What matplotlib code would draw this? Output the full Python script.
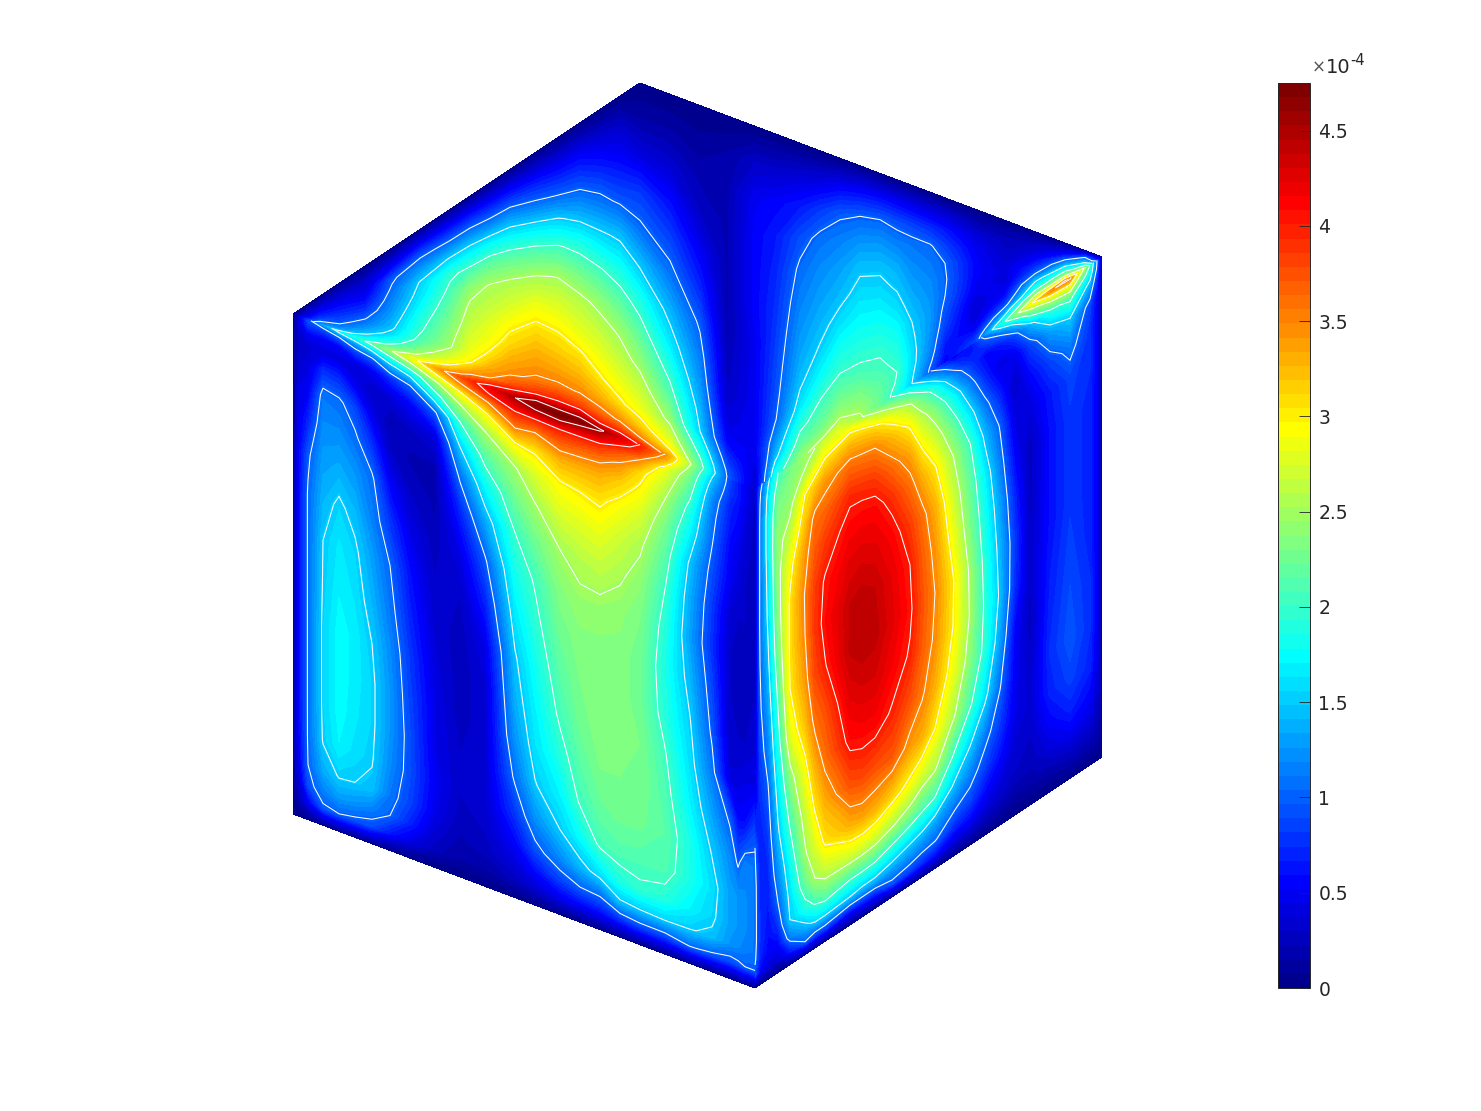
#!/usr/bin/env python3
"""Field on the three visible faces of a cube, contourf + white contour lines."""
import numpy as np
import matplotlib
matplotlib.use("Agg")
import matplotlib.pyplot as plt
from matplotlib.colors import ListedColormap

# values in units of 1e-4, read off along vertical lines of the picture
# ─── left face ───
left_x = [293, 300, 308, 323, 339, 355, 372, 390, 410, 435, 460, 485, 515, 535, 560, 580, 600, 620, 640, 665, 690, 712, 730, 738, 745, 755]
left_d = [0, 6, 15, 27.5, 45, 70, 100, 135, 175, 215, 260, 300, 340, 380, 415, 445, 465, 482.5, 500]
left_val = [
    [0, .1, .1, .1, .1, .1, .1, .1, .1, .1, .1, .1, .1, .1, .1, .1, .1, .05, 0],
    [.4, .45, .35, .3, .35, .45, .5, .6, .65, .65, .65, .65, .65, .65, .6, .55, .4, .25, 0],
    [.95, .8, .5, .35, .4, .5, .7, .95, 1.03, 1.03, 1.03, 1.03, 1.03, 1.03, 1.03, 1.0, .9, .5, 0],
    [1.2, .8, .5, .4, .75, 1.1, 1.2, 1.3, 1.4, 1.5, 1.52, 1.55, 1.55, 1.55, 1.52, 1.35, 1.15, .95, 0],
    [1.65, 1.0, .55, .4, .7, 1.05, 1.2, 1.35, 1.55, 1.65, 1.7, 1.75, 1.75, 1.75, 1.7, 1.52, 1.3, 1.0, 0],
    [1.83, 1.3, .8, .4, .45, .85, 1.05, 1.25, 1.42, 1.55, 1.62, 1.68, 1.68, 1.65, 1.6, 1.5, 1.25, .95, 0],
    [2.12, 1.6, .95, .5, .3, .45, .75, 1.05, 1.15, 1.3, 1.4, 1.5, 1.55, 1.55, 1.52, 1.45, 1.15, .9, 0],
    [2.46, 2.0, 1.4, .75, .4, .2, .3, .55, .8, 1.0, 1.1, 1.2, 1.25, 1.25, 1.2, 1.1, 1.0, .65, 0],
    [2.84, 2.4, 1.7, 1.0, .55, .3, .2, .3, .45, .6, .7, .8, .85, .9, .9, .85, .7, .45, 0],
    [3.35, 3.0, 2.4, 1.85, .95, .4, .2, .2, .25, .3, .35, .4, .45, .45, .5, .45, .35, .25, 0],
    [3.75, 3.5, 3.0, 2.5, 2.0, 1.5, 1.05, .7, .45, .3, .25, .25, .25, .3, .3, .25, .2, .15, 0],
    [4.1, 3.95, 3.45, 2.93, 2.5, 2.13, 1.73, 1.33, .95, .7, .45, .35, .35, .35, .35, .3, .25, .15, 0],
    [4.5, 4.3, 3.95, 3.6, 3.0, 2.48, 2.25, 2.0, 1.82, 1.65, 1.47, 1.38, 1.25, 1.05, .8, .55, .4, .25, 0],
    [4.65, 4.45, 3.95, 3.5, 3.05, 2.75, 2.48, 2.25, 2.03, 1.93, 1.8, 1.7, 1.62, 1.48, 1.2, .9, .6, .35, 0],
    [4.75, 4.5, 4.0, 3.7, 3.3, 2.95, 2.75, 2.5, 2.35, 2.25, 2.15, 2.05, 1.9, 1.7, 1.5, 1.17, .85, .5, 0],
    [4.65, 4.4, 3.98, 3.65, 3.3, 3.0, 2.8, 2.6, 2.45, 2.35, 2.3, 2.25, 2.15, 2.03, 1.75, 1.4, 1.0, .55, 0],
    [4.55, 4.35, 3.95, 3.6, 3.3, 3.05, 2.85, 2.65, 2.45, 2.35, 2.35, 2.35, 2.3, 2.2, 2.05, 1.6, 1.05, .6, 0],
    [4.3, 4.1, 3.75, 3.45, 3.15, 2.9, 2.7, 2.55, 2.4, 2.35, 2.35, 2.35, 2.3, 2.25, 2.12, 1.85, 1.45, .75, 0],
    [4.0, 3.9, 3.5, 3.1, 2.95, 2.75, 2.55, 2.4, 2.3, 2.25, 2.25, 2.3, 2.3, 2.25, 2.1, 1.95, 1.5, .85, 0],
    [3.5, 3.3, 2.85, 2.7, 2.5, 2.3, 2.15, 2.0, 1.9, 1.85, 1.9, 2.02, 2.1, 2.15, 2.1, 1.9, 1.55, .85, 0],
    [2.55, 2.4, 2.25, 2.1, 1.9, 1.7, 1.45, 1.35, 1.3, 1.4, 1.52, 1.6, 1.7, 1.85, 1.85, 1.7, 1.52, 1.02, 0],
    [1.65, 1.5, 1.35, 1.2, 1.1, 1.02, .9, .8, .75, .85, .95, 1.1, 1.3, 1.48, 1.6, 1.55, 1.45, .95, 0],
    [.85, .85, .8, .7, .65, .55, .5, .35, .3, .3, .3, .4, .95, 1.2, 1.3, 1.3, 1.25, .9, 0],
    [.65, .65, .65, .6, .55, .45, .4, .3, .25, .25, .3, .4, .6, .95, 1.25, 1.25, 1.2, .95, 0],
    [.45, .5, .5, .45, .4, .35, .3, .3, .25, .25, .3, .45, .6, 1.15, 1.2, 1.2, 1.15, 1.0, 0],
    [.3, .3, .3, .25, .25, .25, .25, .25, .25, .3, .35, .45, .85, 1.1, 1.1, 1.1, 1.1, 1.0, 0],
]

# ─── right face ───
right_x = [755, 760, 768, 778, 790, 805, 815, 825, 850, 862, 875, 892, 910, 922, 935, 955, 970, 985, 1000, 1015, 1030, 1050, 1070, 1090, 1097, 1102]
right_d = [0, 8, 20, 40, 70, 100, 140, 180, 225, 270, 315, 360, 400, 430, 455, 472, 487, 500]
right_val = [
    [.3, .3, .3, .25, .25, .25, .25, .25, .25, .3, .45, 1.0, 1.1, 1.1, 1.1, 1.05, .9, 0],
    [.85, .95, 1.0, 1.05, 1.05, 1.05, 1.05, 1.0, .95, .85, .75, .65, .7, .75, .75, .7, .55, 0],
    [1.4, 1.5, 1.6, 1.65, 1.65, 1.6, 1.55, 1.45, 1.3, 1.15, .95, .8, .7, .65, .6, .55, .4, 0],
    [2.0, 2.05, 2.2, 2.35, 2.4, 2.4, 2.35, 2.25, 2.05, 1.85, 1.65, 1.45, 1.2, 1.0, .75, .55, .35, 0],
    [2.3, 2.3, 2.35, 2.4, 2.65, 2.9, 3.05, 3.05, 3.0, 2.8, 2.35, 2.03, 1.75, 1.6, 1.5, 1.15, .65, 0],
    [2.45, 2.45, 2.55, 3.0, 3.2, 3.4, 3.52, 3.5, 3.4, 3.2, 2.9, 2.65, 2.45, 2.2, 1.85, 1.4, 1.0, 0],
    [2.5, 2.6, 2.85, 3.2, 3.6, 3.7, 3.85, 3.87, 3.8, 3.6, 3.3, 3.03, 2.75, 2.5, 2.03, 1.6, .85, 0],
    [2.7, 2.85, 3.05, 3.4, 3.65, 3.85, 4.03, 4.08, 3.98, 3.75, 3.6, 3.3, 3.05, 2.65, 2.15, 1.6, .85, 0],
    [2.8, 3.0, 3.25, 3.6, 3.93, 4.1, 4.25, 4.38, 4.4, 4.25, 4.08, 3.75, 3.3, 2.75, 2.0, 1.5, .6, 0],
    [2.5, 2.9, 3.2, 3.55, 3.9, 4.12, 4.28, 4.42, 4.45, 4.3, 4.12, 3.8, 3.35, 2.75, 2.0, 1.43, .65, 0],
    [2.25, 2.65, 3.1, 3.5, 3.85, 4.1, 4.25, 4.38, 4.42, 4.3, 4.12, 3.75, 3.3, 2.7, 1.97, 1.42, .65, 0],
    [2.0, 2.35, 2.85, 3.25, 3.62, 3.9, 4.12, 4.22, 4.25, 4.15, 3.97, 3.72, 3.12, 2.52, 1.8, 1.3, .9, 0],
    [1.55, 2.0, 2.53, 2.95, 3.35, 3.6, 3.85, 4.0, 4.05, 3.97, 3.75, 3.4, 2.9, 2.32, 1.6, 1.2, .8, 0],
    [1.2, 1.65, 2.2, 2.6, 2.98, 3.3, 3.6, 3.7, 3.75, 3.7, 3.55, 3.3, 2.7, 2.13, 1.5, 1.1, .7, 0],
    [.9, 1.25, 1.85, 2.3, 2.7, 3.03, 3.3, 3.42, 3.5, 3.45, 3.3, 3.0, 2.55, 1.98, 1.3, 1.03, .6, 0],
    [.4, .75, 1.15, 1.7, 2.15, 2.45, 2.65, 2.8, 2.97, 2.95, 2.8, 2.5, 1.93, 1.42, 1.0, .7, .35, 0],
    [.6, .6, .8, 1.15, 1.65, 2.02, 2.2, 2.3, 2.45, 2.48, 2.35, 2.05, 1.52, 1.15, .85, .6, .3, 0],
    [1.15, .85, .55, .7, 1.1, 1.42, 1.7, 1.82, 1.9, 1.95, 1.9, 1.6, 1.12, .85, .6, .4, .2, 0],
    [1.8, 1.1, .65, .4, .7, .97, 1.15, 1.3, 1.4, 1.45, 1.3, 1.03, .8, .6, .4, .3, .15, 0],
    [2.4, 1.6, .9, .45, .3, .4, .55, .7, .8, .75, .55, .5, .45, .35, .3, .2, .1, 0],
    [2.9, 2.2, 1.4, .85, .55, .4, .25, .25, .3, .3, .25, .3, .35, .3, .25, .2, .1, 0],
    [3.45, 2.65, 1.9, 1.3, .85, .65, .6, .6, .6, .65, .7, .75, .7, .55, .4, .25, .1, 0],
    [3.6, 2.85, 2.1, 1.5, 1.1, .85, .8, .8, .8, .85, .9, .95, .85, .7, .5, .3, .15, 0],
    [2.0, 1.75, 1.35, .85, .75, .75, .7, .7, .7, .7, .75, .75, .7, .55, .4, .25, .12, 0],
    [1.0, .95, .7, .5, .5, .5, .5, .5, .5, .5, .5, .5, .45, .35, .25, .2, .1, 0],
    [.15, .15, .15, .15, .15, .15, .15, .15, .15, .15, .15, .15, .15, .15, .1, .1, .05, 0],
]

# ─── top face: fraction of the height above the lower (front) edges ───
top_x = [293, 305, 320, 340, 365, 392, 420, 450, 470, 490, 510, 536, 558, 580, 600, 620, 640, 670, 700, 727, 755, 775, 800, 820, 840, 860, 880, 897, 912, 930, 945, 975, 1005, 1035, 1065, 1085, 1102]
top_f = [0, .02, .05, .1, .16, .23, .31, .4, .5, .6, .7, .8, .9, 1]
top_val = [
    [0, 0, 0, 0, 0, 0, 0, 0, 0, 0, 0, 0, 0, 0],
    [.7, .65, .6, .5, .45, .4, .35, .3, .25, .2, .15, .1, .05, 0],
    [1.25, 1.2, 1.15, 1.0, .9, .8, .7, .6, .5, .4, .3, .2, .1, 0],
    [1.68, 1.5, 1.3, 1.15, 1.0, .9, .8, .7, .6, .5, .4, .25, .15, 0],
    [2.0, 1.9, 1.7, 1.47, 1.3, 1.12, .97, .8, .65, .5, .4, .3, .15, 0],
    [2.5, 2.35, 2.1, 1.85, 1.6, 1.45, 1.35, 1.25, 1.15, 1.05, .95, .6, .3, 0],
    [3.05, 2.85, 2.55, 2.3, 2.1, 1.97, 1.88, 1.75, 1.62, 1.52, 1.25, .95, .5, 0],
    [3.6, 3.3, 3.0, 2.75, 2.47, 2.4, 2.3, 2.2, 2.07, 1.95, 1.53, 1.05, .55, 0],
    [3.9, 3.65, 3.35, 2.98, 2.85, 2.75, 2.65, 2.55, 2.4, 2.07, 1.67, 1.15, .6, 0],
    [4.2, 3.95, 3.5, 3.3, 3.05, 2.9, 2.8, 2.65, 2.52, 2.2, 1.75, 1.15, .6, 0],
    [4.45, 4.1, 3.75, 3.45, 3.3, 3.1, 2.95, 2.75, 2.55, 2.2, 1.75, 1.2, .6, 0],
    [4.65, 4.5, 3.9, 3.55, 3.4, 3.25, 3.05, 2.85, 2.55, 2.15, 1.65, 1.05, .55, 0],
    [4.75, 4.45, 3.95, 3.55, 3.35, 3.15, 2.97, 2.75, 2.48, 2.05, 1.55, .95, .5, 0],
    [4.7, 4.45, 3.85, 3.48, 3.25, 3.03, 2.8, 2.6, 2.25, 1.85, 1.35, .9, .5, 0],
    [4.55, 4.0, 3.65, 3.3, 3.03, 2.85, 2.65, 2.4, 2.03, 1.6, 1.15, .75, .4, 0],
    [4.3, 3.85, 3.45, 3.05, 2.85, 2.65, 2.45, 2.15, 1.8, 1.4, .92, .6, .35, 0],
    [3.95, 3.5, 3.15, 2.85, 2.65, 2.4, 2.15, 1.85, 1.45, 1.05, .8, .4, .15, 0],
    [3.3, 2.98, 2.75, 2.42, 2.15, 1.92, 1.65, 1.4, 1.1, .85, .6, .35, .15, 0],
    [2.15, 2.05, 1.85, 1.5, 1.4, 1.25, 1.12, .95, .7, .5, .3, .2, .1, 0],
    [1.0, .95, .8, .55, .4, .3, .25, .2, .2, .2, .2, .2, .15, 0],
    [.3, .35, .4, .5, .5, .5, .5, .5, .55, .55, .55, .5, .3, 0],
    [1.8, 1.65, 1.42, 1.2, .97, .9, .85, .8, .75, .7, .65, .55, .3, 0],
    [2.4, 2.3, 2.15, 1.93, 1.65, 1.47, 1.35, 1.25, 1.15, 1.05, .9, .65, .35, 0],
    [2.65, 2.45, 2.28, 2.12, 1.98, 1.75, 1.55, 1.42, 1.3, 1.2, 1.07, .8, .4, 0],
    [2.85, 2.7, 2.5, 2.32, 2.15, 1.95, 1.8, 1.6, 1.42, 1.3, 1.15, .95, .5, 0],
    [2.55, 2.5, 2.42, 2.3, 2.12, 1.98, 1.85, 1.72, 1.58, 1.45, 1.25, 1.0, .55, 0],
    [2.2, 2.2, 2.2, 2.15, 2.05, 1.97, 1.85, 1.72, 1.57, 1.45, 1.25, 1.0, .55, 0],
    [1.87, 1.9, 1.97, 2.0, 1.93, 1.85, 1.75, 1.6, 1.47, 1.35, 1.15, .92, .5, 0],
    [1.5, 1.52, 1.55, 1.6, 1.6, 1.55, 1.5, 1.4, 1.3, 1.2, 1.1, .85, .45, 0],
    [.95, .98, 1.05, 1.15, 1.2, 1.25, 1.27, 1.25, 1.2, 1.12, 1.03, .75, .4, 0],
    [.55, .55, .6, .65, .75, .85, .92, 1.0, 1.03, 1.0, .85, .65, .35, 0],
    [.85, .8, .7, .5, .4, .35, .4, .5, .55, .55, .5, .4, .2, 0],
    [2.0, 1.85, 1.6, 1.3, .9, .65, .5, .4, .4, .35, .3, .25, .15, 0],
    [3.1, 3.0, 2.75, 2.45, 2.0, 1.7, 1.4, 1.0, .75, .55, .4, .3, .15, 0],
    [3.7, 3.55, 3.3, 2.9, 2.45, 2.15, 1.85, 1.5, 1.2, .9, .6, .4, .2, 0],
    [2.6, 2.55, 2.45, 2.25, 2.05, 1.8, 1.52, 1.4, 1.2, 1.03, .8, .55, .3, 0],
    [.1, .1, .1, .1, .1, .1, .1, .1, .1, .1, .1, .1, .05, 0],
]

contour_levels = [1, 1.5, 2, 2.5, 3, 3.5, 4, 4.5]
cbar_ticks = [0, .5, 1, 1.5, 2, 2.5, 3, 3.5, 4, 4.5]
cbar_labels = ["0", "0.5", "1", "1.5", "2", "2.5", "3", "3.5", "4", "4.5"]
vmax = 4.75
H_PX, W_PX = 1111, 1481

# cube corners in picture pixels
A, B, C, D = (293, 314), (640, 83), (1102, 257), (755, 488)


def front_edge(x):
    """upper edge of left/right faces"""
    return np.interp(x, [A[0], D[0], C[0]], [A[1], D[1], C[1]])


def back_edge(x):
    return np.interp(x, [A[0], B[0], C[0]], [A[1], B[1], C[1]])


def matlab_jet(n=64):
    # matplotlib's jet is a bit off from matlab's one
    t = np.arange(1, n + 1) / n
    rgb = [np.clip(1.5 - np.abs(4 * t - c), 0, 1) for c in (3, 2, 1)]
    return ListedColormap(np.column_stack(rgb))


def draw_face(ax, X, Y, Z):
    cs = ax.contourf(X, Y, Z, levels=levels, cmap=cmap, vmin=0, vmax=vmax, antialiased=False)
    ax.contour(X, Y, Z, levels=contour_levels, colors="white", linewidths=0.75)
    return cs


fig = plt.figure(figsize=(W_PX / 100, H_PX / 100), dpi=100)
ax = fig.add_axes([0, 0, 1, 1])
ax.set_xlim(0, W_PX)
ax.set_ylim(H_PX, 0)
ax.axis("off")

cmap = matlab_jet(64)
levels = np.linspace(0, vmax, 65)

# left and right faces: columns hang down from the front edge
for xs, ds, vals in [(left_x, left_d, left_val), (right_x, right_d, right_val)]:
    xs, ds = np.array(xs, float), np.array(ds, float)
    X, D_ = np.meshgrid(xs, ds, indexing="ij")
    cs = draw_face(ax, X, front_edge(X) + D_, np.array(vals))

# top face: columns run from the front edge up to the back edge
xs, fs = np.array(top_x, float), np.array(top_f)
X, F = np.meshgrid(xs, fs, indexing="ij")
Y = front_edge(X) + F * (back_edge(X) - front_edge(X))
draw_face(ax, X, Y, np.array(top_val))

# colorbar
cax = fig.add_axes([1278 / W_PX, 1 - 988 / H_PX, 32 / W_PX, 905 / H_PX])
cb = fig.colorbar(cs, cax=cax, ticks=cbar_ticks, drawedges=False)
cax.set_ylim(0, vmax)
cax.set_yticklabels(cbar_labels)
cax.tick_params(axis="y", direction="in", length=8, width=0.6, color="#262626",
                labelcolor="#262626", labelsize=13.5, pad=6)
cb.outline.set_edgecolor("#262626")
cb.outline.set_linewidth(0.7)

# exponent above the colorbar
ax.text(1312, 73, "×", fontsize=12, color="#555555", va="baseline", ha="left")
ax.text(1326, 73, "10", fontsize=14, color="#262626", va="baseline", ha="left")
ax.text(1350, 65, "-4", fontsize=10.5, color="#262626", va="baseline", ha="left")

fig.savefig("out.png", dpi=100)
